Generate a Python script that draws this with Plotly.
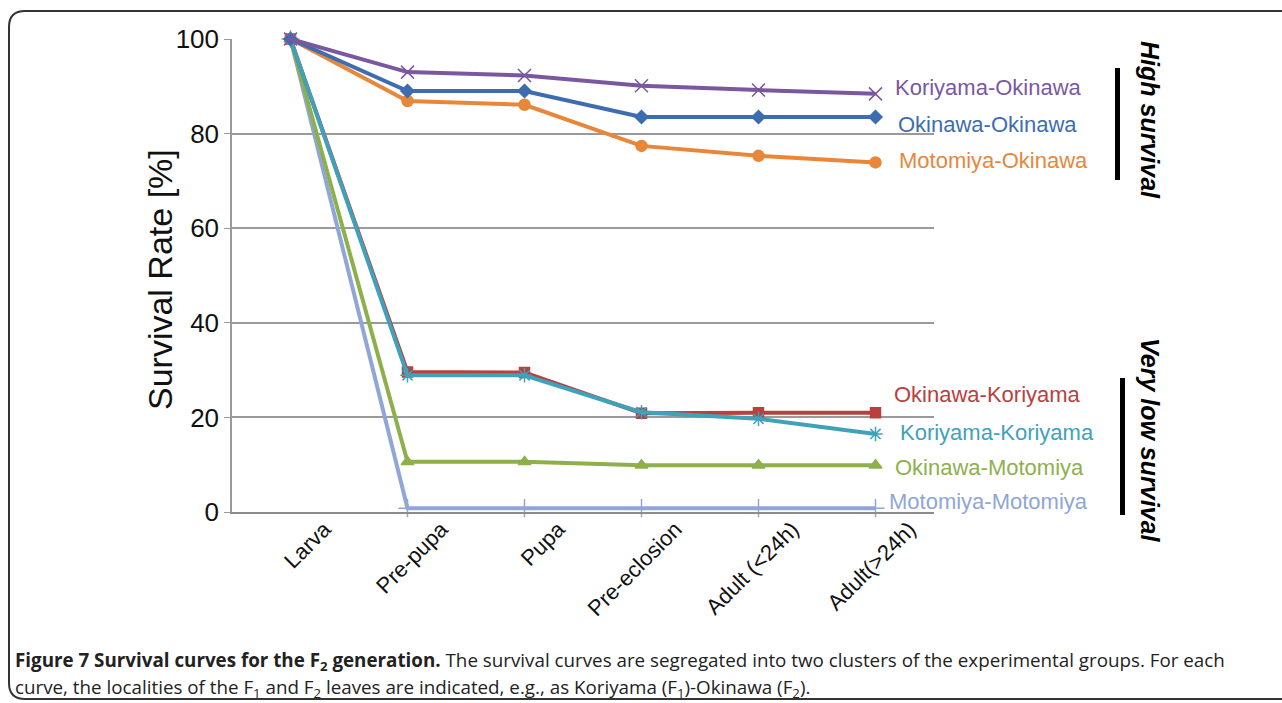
import plotly.graph_objects as go

# ---------------- data ----------------
stages = ["Larva", "Pre-pupa", "Pupa", "Pre-eclosion", "Adult (<24h)", "Adult(>24h)"]

koriyama_okinawa = [100, 93.0, 92.3, 90.1, 89.2, 88.4]
okinawa_okinawa = [100, 89.0, 89.0, 83.5, 83.5, 83.5]
motomiya_okinawa = [100, 86.9, 86.1, 77.4, 75.3, 73.9]
okinawa_koriyama = [100, 29.6, 29.5, 20.9, 21.0, 21.0]
koriyama_koriyama = [100, 28.9, 28.9, 21.1, 19.7, 16.5]
okinawa_motomiya = [100, 10.6, 10.6, 9.9, 9.9, 9.9]
motomiya_motomiya = [100, 0.8, 0.8, 0.8, 0.8, 0.8]

y_ticks = [0, 20, 40, 60, 80, 100]

# ---------------- layout helpers ----------------
W, H = 1282, 703
L, R, T, B = 232, 934, 39, 512  # plot area in pixels


def px(x):
    return (x - L) / (R - L)


def py(y):
    return (B - y) / (B - T)


series = [
    ("Motomiya-Motomiya", motomiya_motomiya, "#8FA6D6", "cross-thin-open", 13, 887, 501),
    ("Okinawa-Motomiya", okinawa_motomiya, "#8EB04C", "triangle-up", 11, 893, 467),
    ("Okinawa-Koriyama", okinawa_koriyama, "#B8403D", "square", 10, 892, 394),
    ("Koriyama-Koriyama", koriyama_koriyama, "#3FA2BA", "asterisk-open", 12, 898, 432),
    ("Motomiya-Okinawa", motomiya_okinawa, "#E8873A", "circle", 11, 897, 160),
    ("Okinawa-Okinawa", okinawa_okinawa, "#3D6DB0", "diamond", 10, 896, 124),
    ("Koriyama-Okinawa", koriyama_okinawa, "#7A58A0", "x-thin-open", 13, 893, 87),
]

fig = go.Figure()
annotations = []
for name, vals, color, sym, size, lx, ly in series:
    fig.add_trace(go.Scatter(
        x=stages, y=vals, mode="lines+markers", name=name,
        line=dict(color=color, width=4),
        marker=dict(symbol=sym, size=size, color=color,
                    line=dict(color=color, width=1.5)),
        cliponaxis=False, showlegend=False,
    ))
    annotations.append(dict(
        text=name, xref="paper", yref="paper", x=px(lx), y=py(ly),
        xanchor="left", yanchor="middle", showarrow=False,
        font=dict(family="Liberation Sans, Arial", size=22, color=color),
    ))

# y-axis title
annotations.append(dict(
    text="Survival Rate [%]", xref="paper", yref="paper",
    x=px(160), y=py(280), textangle=-90, showarrow=False,
    xanchor="center", yanchor="middle",
    font=dict(family="Liberation Sans, Arial", size=34, color="#111"),
))

# group labels
annotations.append(dict(
    text="<b><i>High survival</i></b>", xref="paper", yref="paper",
    x=px(1150), y=py(120), textangle=90, showarrow=False,
    xanchor="center", yanchor="middle",
    font=dict(family="Liberation Sans, Arial", size=25, color="#000"),
))
annotations.append(dict(
    text="<b><i>Very low survival</i></b>", xref="paper", yref="paper",
    x=px(1150), y=py(440), textangle=90, showarrow=False,
    xanchor="center", yanchor="middle",
    font=dict(family="Liberation Sans, Arial", size=25, color="#000"),
))

# caption
cap1 = ("<b>Figure 7 Survival curves for the F<sub>2</sub> generation.</b> "
        "The survival curves are segregated into two clusters of the experimental groups. For each")
cap2 = ("curve, the localities of the F<sub>1</sub> and F<sub>2</sub> leaves are indicated, "
        "e.g., as Koriyama (F<sub>1</sub>)-Okinawa (F<sub>2</sub>).")
for txt, yy in [(cap1, 661), (cap2, 688)]:
    annotations.append(dict(
        text=txt, xref="paper", yref="paper", x=px(13), y=py(yy),
        xanchor="left", yanchor="middle", showarrow=False,
        font=dict(family="Open Sans", size=18.8, color="#222"),
    ))

shapes = [
    dict(type="rect", xref="paper", yref="paper",
         x0=px(1115), x1=px(1120), y0=py(180), y1=py(68),
         fillcolor="#000", line=dict(width=0)),
    dict(type="rect", xref="paper", yref="paper",
         x0=px(1120), x1=px(1125), y0=py(515), y1=py(378),
         fillcolor="#000", line=dict(width=0)),
]

# rounded frame
r = 16
x0, y0, x1, y1 = 9, 11, 1300, 699
path = (f"M {px(x0)},{py(y0 + r)} Q {px(x0)},{py(y0)} {px(x0 + r)},{py(y0)} "
        f"L {px(x1)},{py(y0)} L {px(x1)},{py(y1)} L {px(x0 + r)},{py(y1)} "
        f"Q {px(x0)},{py(y1)} {px(x0)},{py(y1 - r)} Z")
shapes.append(dict(type="path", xref="paper", yref="paper", path=path,
                   line=dict(color="#333", width=2), layer="below"))

fig.update_layout(
    width=W, height=H,
    margin=dict(l=L, r=W - R, t=T, b=H - B),
    paper_bgcolor="white", plot_bgcolor="white",
    annotations=annotations, shapes=shapes,
    xaxis=dict(
        type="category", range=[-0.5, 5.5], showgrid=False, showline=True,
        linecolor="#8c8c8c", linewidth=1.5, tickangle=-45, ticks="",
        tickfont=dict(family="Liberation Sans, Arial", size=22, color="#111"),
        ticklabelshift=34, ticklabelstandoff=-6, fixedrange=True,
    ),
    yaxis=dict(
        range=[0, 100], tickvals=y_ticks, showgrid=True, gridcolor="#9a9a9a",
        gridwidth=1.5, showline=True, linecolor="#9a9a9a", linewidth=1.5,
        ticks="outside", ticklen=6, tickcolor="#9a9a9a", zeroline=False,
        tickfont=dict(family="Liberation Sans, Arial", size=26, color="#111"),
        fixedrange=True,
    ),
)

fig.write_html("out.html", config={"displayModeBar": False},
               post_script="document.body.style.margin='0';document.body.style.overflow='hidden';")
